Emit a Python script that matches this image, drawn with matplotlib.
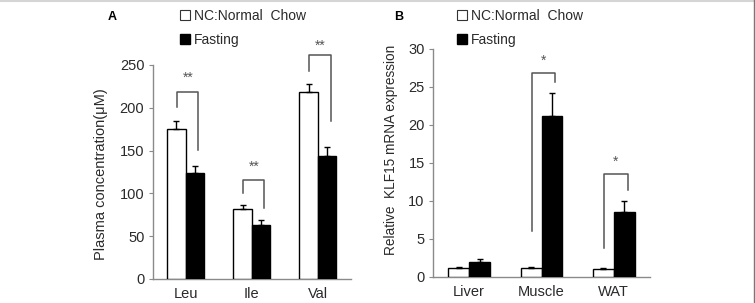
import matplotlib
matplotlib.use("Agg")
import matplotlib.pyplot as plt
from matplotlib.patches import Patch
from matplotlib.lines import Line2D
import numpy as np

plt.rcParams['font.family'] = ['Liberation Sans', 'DejaVu Sans']

# ---- data ----
amino_acids = ["Leu", "Ile", "Val"]
plasma_nc = [175, 82, 218]
plasma_nc_err = [9, 4.5, 10]
plasma_fast = [124, 63.5, 144]
plasma_fast_err = [8, 5.5, 10]
plasma_sig = ["**", "**", "**"]
# bracket: (left leg bottom, top, right leg bottom, star y)
plasma_brackets = [(201, 218, 151, 235), (100, 115.6, 83, 131), (243, 261.7, 184.5, 273)]

tissues = ["Liver", "Muscle", "WAT"]
klf_nc = [1.15, 1.15, 1.05]
klf_nc_err = [0.12, 0.12, 0.12]
klf_fast = [2.0, 21.2, 8.6]
klf_fast_err = [0.35, 3.0, 1.4]
klf_sig = [None, "*", "*"]
klf_brackets = [None, (6.0, 26.8, 25.6, 28.5), (3.8, 13.5, 11.5, 15.2)]

legend_labels = ["NC:Normal  Chow", "Fasting"]

W, H = 755, 303
fig = plt.figure(figsize=(W / 100, H / 100), dpi=100)

def fx(px):
    return px / W

def fy(py):
    return 1 - py / H

axA = fig.add_axes([fx(152.7), fy(279), fx(351) - fx(152.7), fy(65) - fy(279)])
axB = fig.add_axes([fx(433), fy(277), fx(650) - fx(433), fy(49) - fy(277)])

spine_col = "#8a8a8a"
br_col = "#555555"
txt_col = "#2a2a2a"

def draw_panel(ax, cats, nc, nce, fa, fae, sig, brackets, ymax, ystep, bw, ylabel, ylfs, ylpos):
    x = np.arange(len(cats))
    ax.bar(x - bw / 2, nc, bw, color="white", edgecolor="black", linewidth=1.0,
           yerr=[np.zeros(len(nc)), nce], error_kw=dict(ecolor="black", elinewidth=1.0, capsize=2.5, capthick=1.0),
           zorder=3)
    ax.bar(x + bw / 2, fa, bw, color="black", edgecolor="black", linewidth=1.0,
           yerr=[np.zeros(len(fa)), fae], error_kw=dict(ecolor="black", elinewidth=1.0, capsize=2.5, capthick=1.0),
           zorder=3)
    for i, (s, b) in enumerate(zip(sig, brackets)):
        if b is None:
            continue
        lb, top, rb, sy = b
        xl, xr = x[i] - 0.13, x[i] + 0.19
        ax.plot([xl, xl, xr, xr], [lb, top, top, rb], color=br_col, lw=1.1, zorder=4,
                clip_on=False)
        ax.text((xl + xr) / 2, sy, s, ha="center", va="center", fontsize=10, color=br_col)
    ax.set_xlim(-0.5, len(cats) - 0.5)
    ax.set_ylim(0, ymax)
    ax.set_yticks(np.arange(0, ymax + 0.01, ystep))
    ax.set_xticks(x)
    ax.set_xticklabels(cats, fontsize=10.5, color=txt_col)
    ax.tick_params(axis="x", length=0, pad=6)
    ax.tick_params(axis="y", length=3, color=spine_col, labelsize=10.5, labelcolor=txt_col, pad=3)
    for s in ["top", "right"]:
        ax.spines[s].set_visible(False)
    for s in ["left", "bottom"]:
        ax.spines[s].set_color(spine_col)
        ax.spines[s].set_linewidth(1.0)
    ax.set_ylabel(ylabel, fontsize=ylfs, color=txt_col)
    ax.yaxis.set_label_coords(ylpos[0], ylpos[1])
    handles = [Patch(facecolor="white", edgecolor="#333333", linewidth=0.8),
               Patch(facecolor="black", edgecolor="black")]
    return handles

# label coords in axes fraction
hA = draw_panel(axA, amino_acids, plasma_nc, plasma_nc_err, plasma_fast, plasma_fast_err,
                plasma_sig, plasma_brackets, 250, 50, 0.28, "Plasma concentration(μM)", 10.5,
                ((108 - 152.7) / (351 - 152.7), 0.49))
hB = draw_panel(axB, tissues, klf_nc, klf_nc_err, klf_fast, klf_fast_err,
                klf_sig, klf_brackets, 30, 5, 0.29, "Relative  KLF15 mRNA expression", 9.8,
                ((398 - 433) / (650 - 433), (277 - 150) / (277 - 49)))

for ax, hnd, lx in [(axA, hA, 180), (axB, hB, 457)]:
    fig.legend(hnd, legend_labels, loc="upper left", bbox_to_anchor=(fx(lx), fy(9)),
               frameon=False, fontsize=10, handlelength=0.7, handleheight=0.7,
               handletextpad=0.3, labelspacing=0.7, borderaxespad=0, borderpad=0,
               labelcolor=txt_col)

fig.text(fx(108), fy(17), "A", fontsize=9, fontweight="bold", ha="left", va="center")
fig.text(fx(394), fy(17), "B", fontsize=9, fontweight="bold", ha="left", va="center")

# frame lines of the figure
fig.add_artist(Line2D([0, 1], [fy(0.5), fy(0.5)], color="#d5d5d5", lw=1.5, transform=fig.transFigure))
fig.add_artist(Line2D([fx(754.3), fx(754.3)], [0, 1], color="#777777", lw=1.0, transform=fig.transFigure))

fig.savefig("out.png", dpi=100)
